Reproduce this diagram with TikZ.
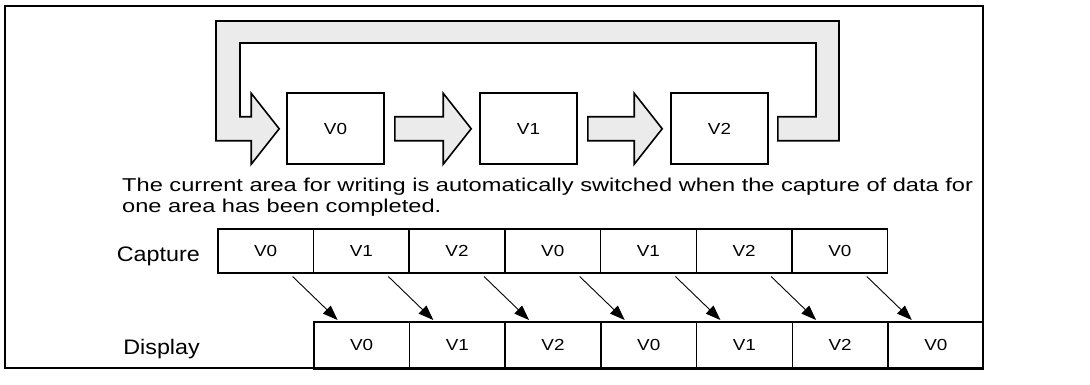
\documentclass[tikz,border=0pt]{standalone}
\usepackage{fontspec}
\setmainfont{Liberation Sans}
\newfontfamily\parfont[FakeStretch=1.27]{Liberation Sans}
\newfontfamily\labfont[FakeStretch=1.11]{Liberation Sans}
\newfontfamily\vfont[FakeStretch=1.18]{Liberation Sans}
\usetikzlibrary{arrows.meta,calc}
\definecolor{blkgray}{HTML}{EBEBEB}
\tikzset{
  frame/.style={draw=black,line width=2.6pt},
  topbox/.style={draw=black,line width=1.6pt,fill=white,minimum width=97pt,minimum height=71pt,inner sep=0pt,font=\vfont\fontsize{16}{18}\selectfont},
  cell/.style={draw=black,line width=1.5pt,minimum width=95.7pt,inner sep=0pt,anchor=north west,font=\vfont\fontsize{16}{18}\selectfont},
  blk/.style={draw=black,line width=1.6pt,fill=blkgray,line join=miter},
  arr/.style={draw=black,line width=0.9pt,-{Triangle[length=15pt,width=11pt]}},
  lab/.style={font=\labfont\fontsize{21}{24}\selectfont,inner sep=0pt,anchor=base east}
}
\begin{document}
\begin{tikzpicture}[x=1pt,y=-1pt]
\useasboundingbox (0,0) rectangle (1090,385);
\draw[frame] (5,6) rectangle (983,368);
% top boxes
\node[topbox] (v0) at (335.5,128.75) {V0};
\node[topbox] (v1) at (528.5,128.75) {V1};
\node[topbox] (v2) at (719.5,128.75) {V2};
% block arrows between boxes
\foreach \a/\b in {v0/v1,v1/v2}{
  \coordinate (s) at ($(\a.east)+(10,0)$);
  \coordinate (e) at ($(\b.west)+(-8,0)$);
  \draw[blk] ($(s)+(0,-12)$) -- ($(e)+(-28,-12)$) -- ($(e)+(-28,-35.5)$) -- (e)
    -- ($(e)+(-28,35.5)$) -- ($(e)+(-28,12)$) -- ($(s)+(0,12)$) -- cycle;
}
% loop arrow
\coordinate (ls) at ($(v2.east)+(9,0)$);
\coordinate (le) at ($(v0.west)+(-7,0)$);
\draw[blk] ($(ls)+(0,-12)$) -- (816,116.75) -- (816,43) -- (240,43) -- (240,116.75)
  -- ($(le)+(-28,-12)$) -- ($(le)+(-28,-35.5)$) -- (le) -- ($(le)+(-28,35.5)$)
  -- ($(le)+(-28,12)$) -- (216,140.75) -- (216,21) -- (839,21) -- (839,140.75)
  -- ($(ls)+(0,12)$) -- cycle;
% text
\node[anchor=north west,inner sep=0pt,align=left,font=\parfont\fontsize{18.6}{21}\selectfont]
  (txt) at (122,177.4) {The current area for writing is automatically switched when the capture of data for\\one area has been completed.};
% rows
\node[lab] (cap) at (200,261.7) {Capture};
\node[lab] (dis) at (200,354) {Display};
\foreach \i/\t in {0/V0,1/V1,2/V2,3/V0,4/V1,5/V2,6/V0}{
  \node[cell,minimum height=44pt] (c\i) at (217+95.7*\i,228) {\t};
  \node[cell,minimum height=47pt] (d\i) at (313+95.7*\i,321) {\t};
}
\foreach \i in {0,...,6}{
  \draw[arr] ([xshift=27pt,yshift=-3pt]c\i.south) -- ([xshift=-24pt,yshift=1pt]d\i.north);
}
\end{tikzpicture}
\end{document}
